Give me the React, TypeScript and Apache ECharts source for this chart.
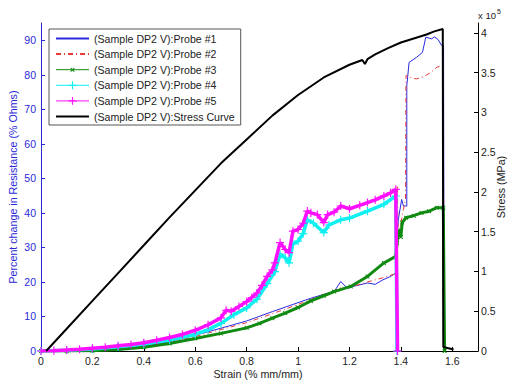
import React, { useEffect, useRef } from "react";
import * as echarts from "echarts";

const xTicks = [0, 0.2, 0.4, 0.6, 0.8, 1, 1.2, 1.4, 1.6];
const leftTicks = [0, 10, 20, 30, 40, 50, 60, 70, 80, 90];
const rightTicks = [0, 0.5, 1, 1.5, 2, 2.5, 3, 3.5, 4];

const names = [
  "(Sample DP2 V):Probe #1",
  "(Sample DP2 V):Probe #2",
  "(Sample DP2 V):Probe #3",
  "(Sample DP2 V):Probe #4",
  "(Sample DP2 V):Probe #5",
  "(Sample DP2 V):Stress Curve",
];

// strain (% mm/mm), percent change in resistance
const probe1: [number, number][] = [
  [0, 0], [0.1, 0], [0.2, 0.2], [0.3, 0.6], [0.4, 1.4], [0.5, 2.7], [0.6, 4.6],
  [0.7, 6.6], [0.8, 8.7], [0.9, 11.4], [1.0, 14.0], [1.05, 15.3], [1.1, 16.4],
  [1.14, 17.2], [1.166, 20.1], [1.192, 18.2], [1.22, 18.8], [1.27, 19.7],
  [1.3, 19.3], [1.33, 20.6], [1.36, 21.6], [1.38, 22.6], [1.383, 30],
  [1.39, 38], [1.403, 43.9], [1.41, 42], [1.423, 42], [1.423, 76.8],
  [1.432, 83.6], [1.46, 85], [1.484, 86.5], [1.497, 90.9], [1.52, 90.4],
  [1.53, 91], [1.545, 90.2], [1.558, 88.5], [1.566, 88.5], [1.568, 0],
];

const probe2: [number, number][] = [
  [0, 0], [0.1, 0], [0.2, 0.2], [0.3, 0.5], [0.4, 1.3], [0.5, 2.5], [0.6, 4.2],
  [0.7, 6.2], [0.8, 8.2], [0.9, 10.8], [1.0, 13.5], [1.1, 16.3], [1.166, 18.3],
  [1.2, 18.4], [1.27, 20], [1.33, 21.2], [1.38, 22.4], [1.386, 48],
  [1.39, 32], [1.4, 37], [1.41, 41], [1.418, 44], [1.42, 79.8], [1.44, 79.2],
  [1.46, 78.8], [1.49, 79.5], [1.517, 80.7], [1.54, 82.2], [1.565, 82.7],
  [1.568, 0],
];

const probe3: [number, number][] = [
  [0, 0], [0.1, 0], [0.2, 0.1], [0.3, 0.4], [0.4, 1.1], [0.5, 2.2], [0.6, 3.6],
  [0.7, 5.1], [0.8, 6.7], [0.85, 8], [0.9, 9.5], [0.95, 11], [1.0, 12.6],
  [1.05, 14.5], [1.1, 16], [1.14, 17.2], [1.205, 18.7], [1.27, 21.6],
  [1.334, 25.5], [1.38, 27.4], [1.385, 31.3], [1.39, 35], [1.4, 33],
  [1.405, 37.2], [1.42, 38.6], [1.45, 39.2], [1.48, 40], [1.51, 40.5],
  [1.54, 41.5], [1.565, 41.5], [1.57, 0],
];

const probe4: [number, number][] = [
  [0, 0], [0.1, 0.2], [0.2, 0.6], [0.3, 1.2], [0.4, 2.0], [0.5, 3.2], [0.6, 4.8],
  [0.65, 6.2], [0.7, 8.0], [0.75, 10.5], [0.8, 12.5], [0.84, 15], [0.88, 19.5],
  [0.91, 23], [0.93, 28], [0.95, 27], [0.965, 25.5], [0.98, 31], [1.0, 31.8],
  [1.02, 34], [1.036, 38], [1.06, 37], [1.1, 34.3], [1.12, 36.5], [1.166, 38],
  [1.2, 38.5], [1.27, 40.5], [1.334, 42.5], [1.38, 44.9], [1.385, 0],
];

const probe5: [number, number][] = [
  [0, 0], [0.05, 0.1], [0.1, 0.3], [0.15, 0.5], [0.2, 0.8], [0.25, 1.1],
  [0.3, 1.5], [0.35, 1.9], [0.4, 2.4], [0.45, 3.1], [0.5, 3.9], [0.55, 4.8],
  [0.6, 6.0], [0.65, 7.6], [0.7, 9.6], [0.72, 11.8], [0.74, 11.5], [0.77, 12.9],
  [0.8, 14.3], [0.82, 15.5], [0.84, 16.8], [0.86, 19], [0.88, 21.6], [0.9, 23.5],
  [0.91, 25.5], [0.93, 31.4], [0.95, 29.4], [0.965, 28.5], [0.98, 34.7],
  [1.0, 35.2], [1.02, 37], [1.036, 40.5], [1.05, 40], [1.075, 39.5], [1.1, 37.2],
  [1.115, 39.5], [1.14, 40.2], [1.166, 42], [1.2, 41.2], [1.24, 42.2],
  [1.27, 43], [1.3, 43.8], [1.334, 44.9], [1.36, 45.8], [1.38, 46.8], [1.387, 0],
];

// strain, stress (x 10^5 MPa)
const stress: [number, number][] = [
  [0.02, 0], [0.1, 0.28], [0.2, 0.63], [0.3, 0.98], [0.4, 1.33], [0.5, 1.68],
  [0.6, 2.02], [0.7, 2.36], [0.8, 2.66], [0.9, 2.96], [1.0, 3.22], [1.1, 3.44],
  [1.2, 3.6], [1.25, 3.66], [1.26, 3.61], [1.27, 3.67], [1.3, 3.73],
  [1.35, 3.81], [1.4, 3.88], [1.45, 3.93], [1.5, 3.98], [1.53, 4.02],
  [1.563, 4.05], [1.565, 0.05], [1.605, 0.02],
];

const DOTS = "M0,0h0.01v0.01h-0.01Z M9.99,9.99h0.01v0.01h-0.01Z ";
const PLUS = "path://" + DOTS + "M4.35,0.5H5.65V9.5H4.35Z M0.5,4.35H9.5V5.65H0.5Z";
const CROSS =
  "path://" + DOTS + "M2.5,3.3L3.3,2.5L7.5,6.7L6.7,7.5Z M6.7,2.5L7.5,3.3L3.3,7.5L2.5,6.7Z";

const FONT = "'Liberation Sans', Arial, Helvetica, sans-serif";
const BLUE = "#2828d8";

export default function App() {
  const ref = useRef<HTMLDivElement>(null);
  useEffect(() => {
    const chart = echarts.init(ref.current!, null, { renderer: "svg" });
    const line = (
      name: string,
      data: [number, number][],
      color: string,
      extra: any = {}
    ) => ({
      name,
      type: "line",
      data,
      showSymbol: !!extra.symbol,
      symbol: extra.symbol || "none",
      symbolSize: extra.symbolSize || 6,
      yAxisIndex: extra.yAxisIndex || 0,
      itemStyle: { color },
      lineStyle: { color, width: extra.width || 1, type: extra.type || "solid" },
      emphasis: { disabled: true },
      z: extra.z || 2,
    });
    const hidden = { color: "transparent", borderWidth: 0, opacity: 0 };
    chart.setOption({
      animation: false,
      textStyle: { fontFamily: FONT },
      grid: { left: 41, right: 29, top: 23, bottom: 36, outerBoundsMode: "none" },
      legend: {
        left: 49,
        top: 29,
        orient: "vertical",
        itemWidth: 33,
        itemHeight: 11,
        itemGap: 4.6,
        padding: [4, 6, 3, 6],
        backgroundColor: "#ffffff",
        borderColor: "#555555",
        borderWidth: 1,
        textStyle: { fontSize: 10.6, color: "#222", fontFamily: FONT },
        data: [
          { name: names[0], itemStyle: hidden },
          { name: names[1], itemStyle: hidden },
          { name: names[2], lineStyle: { width: 1 } },
          { name: names[3], lineStyle: { width: 1 } },
          { name: names[4], lineStyle: { width: 1 } },
          { name: names[5], itemStyle: hidden },
        ],
        selectedMode: false,
      },
      xAxis: {
        type: "value",
        min: 0,
        max: 1.7,
        interval: 0.2,
        axisLine: { lineStyle: { color: "#000", width: 1 } },
        axisTick: { inside: true, length: 4, customValues: xTicks, lineStyle: { color: "#000" } },
        axisLabel: { customValues: xTicks, color: "#222", fontSize: 10.5, margin: 4 },
        splitLine: { show: false },
      },
      yAxis: [
        {
          type: "value",
          min: 0,
          max: 95,
          interval: 10,
          position: "left",
          axisLine: { show: true, lineStyle: { color: BLUE, width: 1 } },
          axisTick: { show: true, inside: true, length: 4, customValues: leftTicks, lineStyle: { color: BLUE } },
          axisLabel: { customValues: leftTicks, color: BLUE, fontSize: 10.5, margin: 5 },
          splitLine: { show: false },
        },
        {
          type: "value",
          min: 0,
          max: 4.125,
          interval: 0.5,
          position: "right",
          axisLine: { show: true, lineStyle: { color: "#000", width: 1 } },
          axisTick: { show: true, inside: true, length: 4, customValues: rightTicks, lineStyle: { color: "#000" } },
          axisLabel: { customValues: rightTicks, color: "#222", fontSize: 10.5, margin: 3 },
          splitLine: { show: false },
        },
      ],
      series: [
        line(names[0], probe1, "#2a2ae0", { z: 2 }),
        line(names[1], probe2, "#e8383a", { type: [5, 3, 1, 3], z: 3 }),
        line(names[2], probe3, "#108a10", { symbol: CROSS, symbolSize: 9, width: 3, z: 4 }),
        line(names[3], probe4, "#10f0f0", { symbol: PLUS, symbolSize: 9, width: 3.5, z: 5 }),
        line(names[4], probe5, "#ff10ff", { symbol: PLUS, symbolSize: 9, width: 3.5, z: 6 }),
        line(names[5], stress, "#000000", { yAxisIndex: 1, width: 2, z: 7 }),
      ],
      graphic: [
        {
          type: "text",
          x: 13,
          y: 187,
          rotation: Math.PI / 2,
          style: {
            text: "Percent change in Resistance (% Ohms)",
            fill: BLUE,
            fontSize: 10.7,
            fontFamily: FONT,
            align: "center",
            verticalAlign: "middle",
          },
        },
        {
          type: "text",
          x: 501,
          y: 187,
          rotation: Math.PI / 2,
          style: {
            text: "Stress (MPa)",
            fill: "#222",
            fontSize: 10.7,
            fontFamily: FONT,
            align: "center",
            verticalAlign: "middle",
          },
        },
        {
          type: "text",
          x: 258,
          y: 374,
          style: {
            text: "Strain (% mm/mm)",
            fill: "#222",
            fontSize: 10.7,
            fontFamily: FONT,
            align: "center",
            verticalAlign: "middle",
          },
        },
        {
          type: "text",
          x: 478,
          y: 15,
          style: {
            text: "{a|x 10}{b|5}",
            fontFamily: FONT,
            verticalAlign: "middle",
            rich: {
              a: { fontSize: 9.5, fill: "#222", fontFamily: FONT },
              b: { fontSize: 7, fill: "#222", fontFamily: FONT, padding: [0, 0, 8, 1] },
            },
          },
        },
      ],
    });
    return () => chart.dispose();
  }, []);
  return (
    <div
      ref={ref}
      style={{ position: "fixed", left: 0, top: 0, width: 507, height: 387, background: "#fff" }}
    />
  );
}
